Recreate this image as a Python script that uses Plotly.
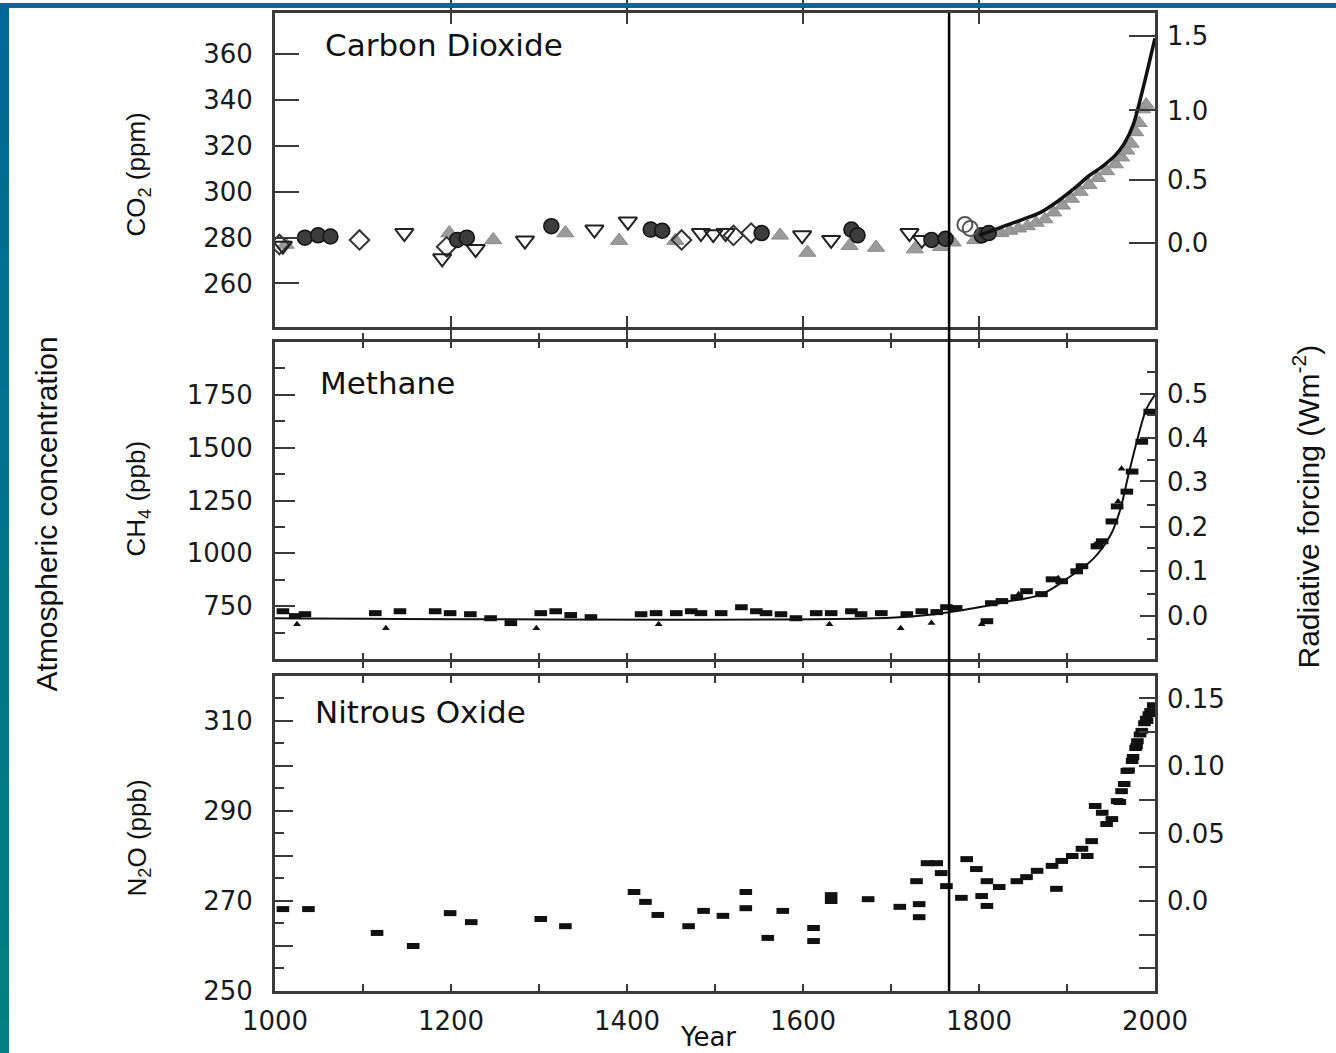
import plotly.graph_objects as go

# ---------------- data ----------------
# Carbon dioxide (ppm)
co2_circle_years = [1034, 1049, 1063, 1207, 1218, 1314, 1427, 1440, 1553, 1655, 1662, 1746, 1762, 1803, 1811]
co2_circle_ppm = [280, 281, 280.5, 279, 280, 285, 283.5, 283, 282, 283.5, 281, 279, 279.5, 281, 282]
co2_tridown_years = [1009, 1147, 1190, 1228, 1284, 1363, 1401, 1484, 1498, 1512, 1599, 1632, 1721, 1735]
co2_tridown_ppm = [276.5, 282, 271, 275, 278.7, 283.5, 287, 282, 281.5, 282, 281, 279, 282, 279]
co2_triup_years = [1012, 1198, 1248, 1330, 1391, 1455, 1574, 1605, 1653, 1683, 1727, 1757, 1770]
co2_triup_ppm = [277, 282, 279, 282, 278.7, 278.7, 281, 273.5, 276.5, 275.7, 275, 276, 278]
co2_diamond_years = [1005, 1096, 1195, 1462, 1521, 1541]
co2_diamond_ppm = [277, 279, 276, 279, 281, 282]
co2_opencircle_years = [1784, 1790]
co2_opencircle_ppm = [285.7, 284]
co2_band_years = [1795, 1805, 1815, 1825, 1835, 1845, 1855, 1865, 1875, 1885, 1895, 1905,
                  1915, 1925, 1935, 1945, 1955, 1962, 1968, 1973, 1978, 1982, 1986, 1990]
co2_band_ppm = [279, 281, 282, 282, 283, 284, 285, 286.5, 288, 291, 294, 297,
                300, 303, 306, 309, 312, 315, 318, 321, 326, 330, 336, 338]
co2_line_years = [1800, 1825, 1850, 1870, 1890, 1910, 1925, 1940, 1955, 1965, 1975, 1985, 1992, 2000]
co2_line_ppm = [281, 284.5, 288, 291, 296, 302, 307, 311, 316, 321, 329, 343, 354, 367]

# Methane (ppb)
ch4_sq_years = [1009, 1023, 1034, 1114, 1142, 1182, 1199, 1222, 1245, 1268, 1302, 1319, 1336, 1359,
                1416, 1433, 1456, 1473, 1484, 1507, 1530, 1547, 1558, 1575, 1592, 1615, 1632, 1655,
                1666, 1689, 1718, 1735, 1752, 1763, 1774, 1809, 1814, 1826, 1843, 1854, 1871, 1883,
                1894, 1911, 1917, 1934, 1940, 1951, 1957, 1968, 1974, 1985, 1994]
ch4_sq_ppb = [726, 703, 712, 717, 726, 726, 717, 712, 693, 670, 717, 726, 708, 698,
              712, 717, 717, 726, 717, 717, 745, 726, 717, 712, 693, 717, 717, 726,
              712, 717, 712, 726, 722, 745, 741, 679, 764, 774, 792, 821, 807, 877,
              868, 915, 939, 1033, 1057, 1151, 1222, 1292, 1387, 1528, 1670]
ch4_tri_years = [1025, 1126, 1297, 1436, 1630, 1711, 1746, 1803, 1845, 1890, 1932, 1958, 1962]
ch4_tri_ppb = [665, 646, 646, 665, 665, 646, 670, 665, 807, 882, 1042, 1245, 1400]
ch4_line_years = [1000, 1700, 1750, 1800, 1830, 1870, 1900, 1930, 1950, 1960, 1970, 1980, 1990, 2000]
ch4_line_ppb = [693, 695, 712, 745, 770, 805, 880, 975, 1090, 1200, 1374, 1540, 1680, 1750]

# Nitrous oxide (ppb)
n2o_years = [1009, 1038, 1116, 1157, 1199, 1223, 1302, 1330, 1408, 1421, 1435, 1470, 1487, 1509,
             1535, 1535, 1560, 1577, 1612, 1612, 1632, 1632, 1674, 1710, 1732, 1732, 1729, 1741,
             1752, 1757, 1763, 1780, 1786, 1797, 1809, 1803, 1809, 1823, 1843, 1854, 1866, 1883,
             1894, 1888, 1906, 1917, 1923, 1928, 1932, 1940, 1945, 1951, 1957, 1960, 1962, 1965,
             1968, 1970, 1974, 1975, 1978, 1979, 1980, 1983, 1985, 1988, 1990, 1991, 1993, 1995, 1998]
n2o_ppb = [268.2, 268.2, 262.9, 260, 267.3, 265.3, 266, 264.4, 272, 269.8, 266.9, 264.4, 267.8, 266.7,
           272, 268.4, 261.8, 267.8, 264, 261.1, 271.3, 270, 270.4, 268.7, 266.4, 269.3, 274.4, 278.4,
           278.4, 276.2, 273.3, 270.7, 279.3, 277.1, 274.4, 271.1, 268.9, 273.1, 274.4, 275.3, 276.7, 277.8,
           278.9, 272.7, 280, 281.6, 280, 283.3, 291.1, 289.6, 287.1, 288.2, 292.2, 292, 294.4, 296,
           298.9, 299, 301.1, 302, 304, 304.4, 305.5, 307, 307.8, 309.5, 310.5, 310, 311.5, 312.2, 313.5]

# axis ticks
year_labels = [1000, 1200, 1400, 1600, 1800, 2000]
co2_ticks = [260, 280, 300, 320, 340, 360]
co2_forcing_labels = ['0.0', '0.5', '1.0', '1.5']
co2_forcing_at_ppm = [277.5, 305, 335.5, 368]
ch4_ticks = [750, 1000, 1250, 1500, 1750]
ch4_minor = [625, 875, 1125, 1375, 1625, 1875]
ch4_forcing_labels = ['0.0', '0.1', '0.2', '0.3', '0.4', '0.5']
ch4_forcing_at_ppb = [703, 915, 1127, 1340, 1544, 1756]
ch4_forcing_minor_at_ppb = [594, 807, 1024, 1231, 1443, 1656, 1858]
n2o_ticks = [250, 270, 290, 310]
n2o_mid_ticks = [260, 280, 300, 320]
n2o_forcing_labels = ['0.0', '0.05', '0.10', '0.15']
n2o_forcing_at_ppb = [270, 285, 300, 315]
n2o_forcing_minor_at_ppb = [255, 262.5, 277.5, 292.5, 307.5]
preindustrial_year = 1766

# ---------------- layout helpers ----------------
W, H = 1336, 1053
L, R, T, B = 275, 1155, 10, 991


def px(x):
    return (x - L) / (R - L)


def py(y):
    return (B - y) / (B - T)


AX = '#3a3a3a'
TICKFONT = dict(family='DejaVu Sans', size=26, color='#1a1a1a')

fig = go.Figure()

# CO2 panel
fig.add_trace(go.Scatter(x=co2_band_years, y=co2_band_ppm, mode='markers', xaxis='x', yaxis='y',
                         marker=dict(symbol='triangle-up', size=14, color='#9a9a9a',
                                     line=dict(color='#8a8a8a', width=1))))
fig.add_trace(go.Scatter(x=co2_triup_years, y=co2_triup_ppm, mode='markers', xaxis='x', yaxis='y',
                         marker=dict(symbol='triangle-up', size=15, color='#9a9a9a',
                                     line=dict(color='#8a8a8a', width=1))))
fig.add_trace(go.Scatter(x=co2_diamond_years, y=co2_diamond_ppm, mode='markers', xaxis='x', yaxis='y',
                         marker=dict(symbol='diamond-open', size=15, color='#333333',
                                     line=dict(color='#333333', width=2))))
fig.add_trace(go.Scatter(x=co2_tridown_years, y=co2_tridown_ppm, mode='markers', xaxis='x', yaxis='y',
                         marker=dict(symbol='triangle-down-open', size=16, color='#222222',
                                     line=dict(color='#222222', width=2))))
fig.add_trace(go.Scatter(x=co2_circle_years, y=co2_circle_ppm, mode='markers', xaxis='x', yaxis='y',
                         marker=dict(symbol='circle', size=15, color='#3c3c3c',
                                     line=dict(color='#111111', width=1.5))))
fig.add_trace(go.Scatter(x=co2_opencircle_years, y=co2_opencircle_ppm, mode='markers', xaxis='x', yaxis='y',
                         marker=dict(symbol='circle-open', size=15, color='#555555',
                                     line=dict(color='#555555', width=2))))
fig.add_trace(go.Scatter(x=co2_line_years, y=co2_line_ppm, mode='lines', xaxis='x', yaxis='y',
                         line=dict(color='#111111', width=3.5, shape='spline')))

# CH4 panel
fig.add_trace(go.Scatter(x=ch4_line_years, y=ch4_line_ppb, mode='lines', xaxis='x2', yaxis='y3',
                         line=dict(color='#111111', width=2, shape='spline')))
fig.add_trace(go.Scatter(x=ch4_sq_years, y=ch4_sq_ppb, mode='markers', xaxis='x2', yaxis='y3',
                         marker=dict(symbol='line-ew', size=9, line=dict(color='#111111', width=6))))
fig.add_trace(go.Scatter(x=ch4_tri_years, y=ch4_tri_ppb, mode='markers', xaxis='x2', yaxis='y3',
                         marker=dict(symbol='triangle-up', size=7, color='#111111')))

# N2O panel
fig.add_trace(go.Scatter(x=n2o_years, y=n2o_ppb, mode='markers', xaxis='x3', yaxis='y5',
                         marker=dict(symbol='line-ew', size=9, line=dict(color='#111111', width=6))))

# invisible traces so that the extra tick axes are drawn
for xa, ya, rng in [('x', 'y2', [241, 378]), ('x2', 'y4', [500, 2000]), ('x3', 'y6', [250, 320]),
                    ('x3', 'y7', [250, 320])]:
    fig.add_trace(go.Scatter(x=[1000, 2000], y=rng, mode='markers', xaxis=xa, yaxis=ya,
                             marker=dict(opacity=0), hoverinfo='skip'))

xcommon = dict(range=[1000, 2000], showline=True, linecolor=AX, linewidth=3, mirror='allticks',
               ticks='inside', tickcolor=AX, tickwidth=2, showgrid=False, zeroline=False)
ycommon = dict(showline=True, linecolor=AX, linewidth=3, mirror=True, ticks='inside', tickcolor=AX,
               tickwidth=2, showgrid=False, zeroline=False, tickfont=TICKFONT, ticklabelstandoff=14)
rcommon = dict(side='right', showline=False, ticks='inside', tickcolor=AX, tickwidth=2,
               showgrid=False, zeroline=False, tickfont=TICKFONT, ticklabelstandoff=11)

d_co2 = [py(325), 1]
d_ch4 = [py(658), py(340)]
d_n2o = [0, py(675)]

layout = dict(
    width=W, height=H, showlegend=False,
    margin=dict(l=L, r=W - R, t=T, b=H - B, pad=0),
    paper_bgcolor='white', plot_bgcolor='white',
    xaxis=dict(xcommon, domain=[0, 1], anchor='y', tickmode='array', tickvals=[1200, 1400, 1600, 1800],
               ticklen=11, showticklabels=False),
    xaxis2=dict(xcommon, domain=[0, 1], anchor='y3', tickmode='linear', tick0=1000, dtick=100,
                ticklen=6, showticklabels=False),
    xaxis3=dict(xcommon, domain=[0, 1], anchor='y5', tickmode='array', tickvals=year_labels,
                ticklen=7, tickfont=TICKFONT, ticklabelstandoff=5,
                minor=dict(tickmode='linear', tick0=1000, dtick=100, ticks='inside', ticklen=7,
                           tickcolor=AX, tickwidth=2)),
    yaxis=dict(ycommon, domain=d_co2, anchor='x', range=[241, 378], tickmode='array',
               tickvals=co2_ticks, ticklen=24),
    yaxis2=dict(rcommon, overlaying='y', anchor='x', range=[241, 378], tickmode='array',
                tickvals=co2_forcing_at_ppm, ticktext=co2_forcing_labels, ticklen=26),
    yaxis3=dict(ycommon, domain=d_ch4, anchor='x2', range=[500, 2000], tickmode='array',
                tickvals=ch4_ticks, ticklen=20,
                minor=dict(tickmode='array', tickvals=ch4_minor, ticks='inside', ticklen=10,
                           tickcolor=AX, tickwidth=2)),
    yaxis4=dict(rcommon, overlaying='y3', anchor='x2', range=[500, 2000], tickmode='array',
                tickvals=ch4_forcing_at_ppb, ticktext=ch4_forcing_labels, ticklen=15,
                minor=dict(tickmode='array', tickvals=ch4_forcing_minor_at_ppb, ticks='inside',
                           ticklen=8, tickcolor=AX, tickwidth=2)),
    yaxis5=dict(ycommon, domain=d_n2o, anchor='x3', range=[250, 320], tickmode='array',
                tickvals=n2o_ticks, ticklen=18,
                minor=dict(tickmode='linear', tick0=250, dtick=5, ticks='inside', ticklen=9,
                           tickcolor=AX, tickwidth=2)),
    yaxis6=dict(rcommon, overlaying='y5', anchor='x3', range=[250, 320], tickmode='array',
                tickvals=n2o_forcing_at_ppb, ticktext=n2o_forcing_labels, ticklen=16,
                minor=dict(tickmode='array', tickvals=n2o_forcing_minor_at_ppb, ticks='inside',
                           ticklen=16, tickcolor=AX, tickwidth=2)),
    yaxis7=dict(overlaying='y5', anchor='x3', side='left', range=[250, 320], tickmode='array',
                tickvals=n2o_mid_ticks, ticks='inside', ticklen=18, tickcolor=AX, tickwidth=2,
                showticklabels=False, showline=False, showgrid=False, zeroline=False),
)
fig.update_layout(layout)

# vertical pre-industrial marker
shapes = [dict(type='line', xref='x', yref='paper', x0=preindustrial_year, x1=preindustrial_year,
               y0=0, y1=1, line=dict(color='black', width=2.5), layer='above')]

# blue frame (top strip and left gradient strip)
shapes.append(dict(type='rect', xref='paper', yref='paper', x0=px(0), x1=px(W), y0=py(5), y1=py(0),
                   fillcolor='rgb(0,104,152)', line=dict(width=0), layer='above'))
nseg = 30
for i in range(nseg):
    f = i / (nseg - 1)
    col = 'rgb(0,%d,%d)' % (int(104 + (128 - 104) * f), int(152 + (128 - 152) * f))
    y0 = i * H / nseg
    y1 = (i + 1) * H / nseg + 1
    shapes.append(dict(type='rect', xref='paper', yref='paper', x0=px(0), x1=px(9),
                       y0=py(y1), y1=py(y0), fillcolor=col, line=dict(width=0), layer='above'))
fig.update_layout(shapes=shapes)

TITLEFONT = dict(family='DejaVu Sans', size=31, color='#111111')
ROTFONT = dict(family='Liberation Sans', size=26, color='#111111')
ann = [
    dict(text='Carbon Dioxide', x=px(323), y=py(42), xanchor='left', yanchor='middle', font=TITLEFONT),
    dict(text='Methane', x=px(318), y=py(381), xanchor='left', yanchor='middle', font=TITLEFONT),
    dict(text='Nitrous Oxide', x=px(313), y=py(711), xanchor='left', yanchor='middle', font=TITLEFONT),
    dict(text='CO<sub>2</sub> (ppm)', x=px(138), y=py(172), textangle=-90, xanchor='center',
         yanchor='middle', font=ROTFONT),
    dict(text='CH<sub>4</sub> (ppb)', x=px(138), y=py(497), textangle=-90, xanchor='center',
         yanchor='middle', font=ROTFONT),
    dict(text='N<sub>2</sub>O (ppb)', x=px(138), y=py(838), textangle=-90, xanchor='center',
         yanchor='middle', font=ROTFONT),
    dict(text='Atmospheric concentration', x=px(46), y=py(512), textangle=-90, xanchor='center',
         yanchor='middle', font=dict(family='Liberation Sans', size=30, color='#111111')),
    dict(text='Radiative forcing (Wm<sup>-2</sup>)', x=px(1307), y=py(505), textangle=-90,
         xanchor='center', yanchor='middle', font=dict(family='Liberation Sans', size=30, color='#111111')),
    dict(text='Year', x=px(708), y=py(1037), xanchor='center', yanchor='middle',
         font=dict(family='DejaVu Sans', size=26, color='#111111')),
]
for a in ann:
    a.update(xref='paper', yref='paper', showarrow=False)
fig.update_layout(annotations=ann)

fig.write_html('out.html')
